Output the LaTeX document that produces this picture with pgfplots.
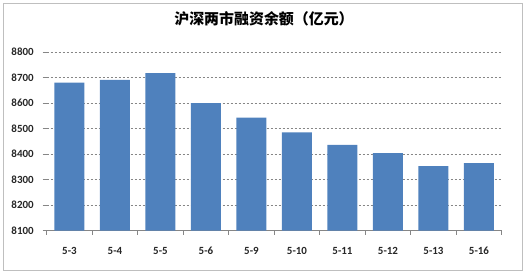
\documentclass[border=0pt]{standalone}
\usepackage{pgfplots}
\pgfplotsset{compat=1.18}
\usepackage{fontspec}
\setmainfont{Carlito}
\newfontfamily\cjk{Noto Sans CJK SC}
\definecolor{barblue}{HTML}{4F81BD}
\definecolor{axgray}{HTML}{868686}
\definecolor{frame}{HTML}{BFBFBF}
\begin{document}
\begin{tikzpicture}[x=1bp,y=1bp]
\path (0,0) rectangle (529,274);
\draw[frame, line width=0.8bp] (3,4) rectangle (522,271);
\node[anchor=center, inner sep=0pt] at (264,255.5) {\cjk\bfseries\fontsize{15}{17}\selectfont 沪深两市融资余额（亿元）};
\begin{axis}[
  at={(46.7bp,43.3bp)}, anchor=south west,
  width=455bp, height=178.7bp, scale only axis,
  ybar, bar width=30bp,
  xmin=-0.5, xmax=9.5, ymin=8100, ymax=8800,
  ytick={8100,8200,...,8800},
  xtick={0,...,9},
  xticklabels={5-3,5-4,5-5,5-6,5-9,5-10,5-11,5-12,5-13,5-16},
  minor xtick={-0.5,0.5,...,9.5},
  axis x line*=bottom, axis y line*=left,
  y axis line style={draw=none},
  x axis line style={axgray, line width=0.7bp, -},
  tick align=outside,
  major tick length=4bp, minor tick length=4bp,
  major x tick style={draw=none},
  minor x tick style={axgray, line width=0.7bp},
  major y tick style={axgray, line width=0.7bp},
  ymajorgrids,
  major y grid style={axgray, line width=0.6bp, dash pattern=on 2bp off 2bp},
  /pgf/number format/assume math mode=true,
  /pgf/number format/1000 sep={},
  tick label style={font=\bfseries\fontsize{11}{13}\selectfont, text=black!85},
  xticklabel style={yshift=-9bp},
  yticklabel style={xshift=-5.5bp},
]
\addplot[fill=barblue, draw=none] coordinates {
(0,8680) (1,8691) (2,8717) (3,8600) (4,8543) (5,8485) (6,8436) (7,8404) (8,8353) (9,8365)
};
\end{axis}
\end{tikzpicture}
\end{document}
